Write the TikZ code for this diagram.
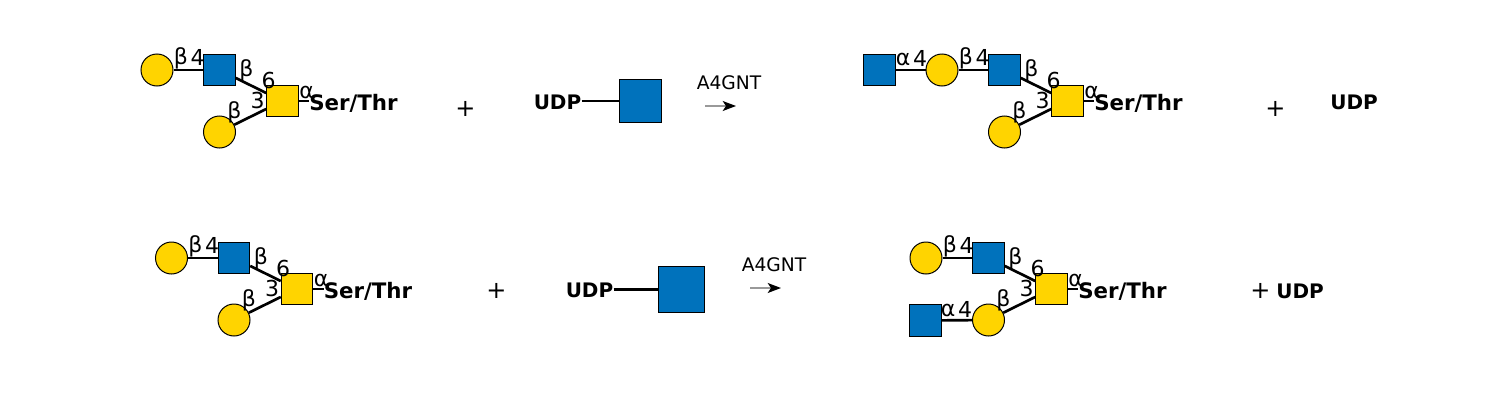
\documentclass[tikz,border=0pt]{standalone}
\usepackage{fontspec}
\setmainfont{DejaVu Sans}
\usetikzlibrary{arrows.meta}
\definecolor{glcblue}{RGB}{0,114,188}
\definecolor{galyellow}{RGB}{255,212,0}
\tikzset{
  x=0.75pt,y=-0.75pt,
  gal/.style={circle,draw=black,fill=galyellow,line width=0.75pt,minimum size=24pt,inner sep=0pt},
  galnac/.style={rectangle,draw=black,fill=galyellow,line width=0.75pt,minimum size=23.5pt,inner sep=0pt},
  glcnac/.style={rectangle,draw=black,fill=glcblue,line width=0.75pt,minimum size=23.5pt,inner sep=0pt},
  bond/.style={line width=2pt,black},
  linklab/.style={font=\fontsize{16.5}{16.5}\selectfont,inner sep=0pt,text=black},
  boldlab/.style={font=\fontsize{16}{16}\selectfont\bfseries,inner sep=0pt,text=black},
  udplab/.style={font=\fontsize{15}{15}\selectfont\bfseries,inner sep=0pt,text=black},
  enzlab/.style={font=\fontsize{14}{14}\selectfont,inner sep=0pt,text=black},
  pluslab/.style={font=\fontsize{18}{18}\selectfont,inner sep=0pt,text=black},
  enzarrow/.style={line width=1pt,draw=gray!80,-{Stealth[black,length=10pt,width=7.5pt,inset=2.5pt]}},
}
% #1 prefix, (#2,#3) centre of the GalNAc square
\newcommand{\glycore}[3]{%
  \begin{scope}[shift={(#2,#3)}]
    \node[galnac] (#1n) at (0,0) {};
    \node[glcnac] (#1a) at (-63,-31) {};
    \node[gal] (#1b) at (-125.5,-31) {};
    \node[gal] (#1c) at (-63,31) {};
    \node[boldlab,anchor=west] (#1s) at (26.5,2) {Ser/Thr};
    \draw[bond] (#1a) -- (#1n);
    \draw[bond] (#1b) -- (#1a);
    \draw[bond] (#1c) -- (#1n);
    \draw[bond] (#1n.east) -- (#1n.east -| #1s.west);
    \node[linklab] (#1l1) at (-101.5,-43) {β};
    \node[linklab] (#1l2) at (-85,-44) {4};
    \node[linklab] (#1l3) at (-36,-31) {β};
    \node[linklab] (#1l4) at (-14,-21) {6};
    \node[linklab] (#1l5) at (-25,-1) {3};
    \node[linklab] (#1l6) at (24,-9) {α};
    \node[linklab] (#1l7) at (-48,11) {β};
  \end{scope}%
}
\begin{document}
\begin{tikzpicture}
\useasboundingbox (0,0) rectangle (1500,400);

% Row 1 left
\glycore{p}{282.5}{101}
\node[pluslab] (plus1) at (465.5,109) {+};
\node[udplab] (udp1) at (557.5,102.5) {UDP};
\node[glcnac,minimum size=32pt] (sq1) at (640.5,101) {};
\draw[bond] (sq1.west -| udp1.east) -- (sq1.west);
\node[enzlab] (enz1) at (729,83) {A4GNT};
\coordinate (e1a) at (705,106);
\coordinate (e1b) at (736,106);
\draw[enzarrow] (e1a) -- (e1b);

% Row 1 right
\glycore{q}{1067.5}{101}
\node[glcnac] (qx) at (879.5,70) {};
\draw[bond] (qx) -- (qb);
\node[linklab] (qx1) at (903,59) {α};
\node[linklab] (qx2) at (920,58) {4};
\node[pluslab] (plus2) at (1275.5,109) {+};
\node[udplab] (udp2) at (1354,102.5) {UDP};

% Row 2 left
\glycore{r}{297}{289}
\node[pluslab] (plus3) at (496.5,291) {+};
\node[udplab] (udp3) at (589.5,290.5) {UDP};
\node[glcnac,minimum size=35pt] (sq3) at (681.5,289.5) {};
\draw[bond] (sq3.west -| udp3.east) -- (sq3.west);
\node[enzlab] (enz2) at (774,265) {A4GNT};
\coordinate (e2a) at (750,288);
\coordinate (e2b) at (781,288);
\draw[enzarrow] (e2a) -- (e2b);

% Row 2 right
\glycore{t}{1051.5}{289}
\node[glcnac] (tx) at (925.5,320.5) {};
\draw[bond] (tx) -- (tc);
\node[linklab] (tx1) at (948,310) {α};
\node[linklab] (tx2) at (965,309) {4};
\node[pluslab] (plus4) at (1260.5,291) {+};
\node[udplab] (udp4) at (1300,291) {UDP};
\end{tikzpicture}
\end{document}
